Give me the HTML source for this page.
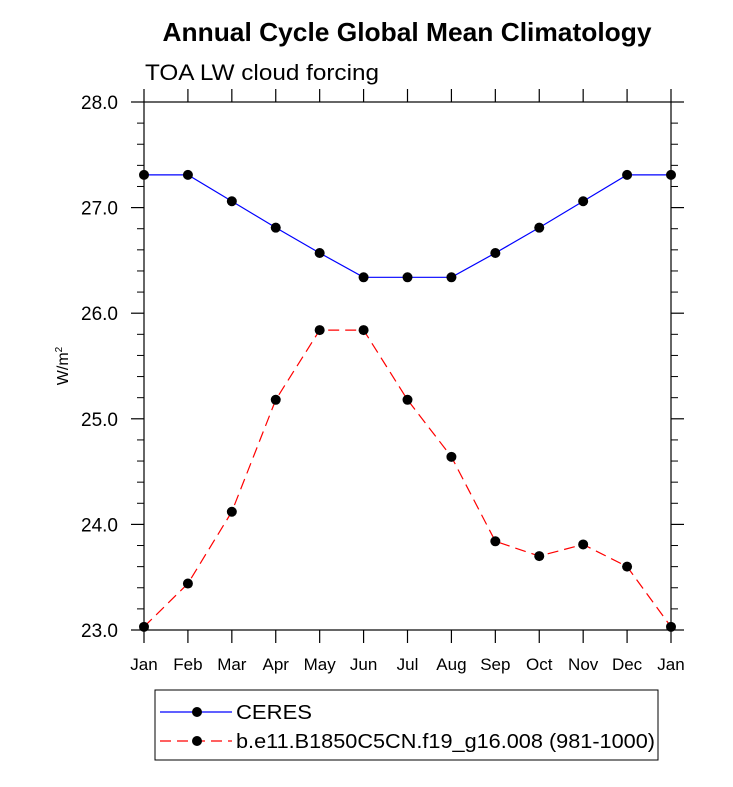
<!DOCTYPE html>
<html><head><meta charset="utf-8"><style>
body{margin:0;background:#fff;}
svg text{font-family:"Liberation Sans",Arial,sans-serif;}
</style></head><body>
<svg id="chart" width="733" height="782" xmlns="http://www.w3.org/2000/svg">
<text x="407" y="41" text-anchor="middle" font-size="26" font-weight="bold" textLength="489" lengthAdjust="spacingAndGlyphs">Annual Cycle Global Mean Climatology</text>
<text x="145" y="80" font-size="22" textLength="234" lengthAdjust="spacingAndGlyphs">TOA LW cloud forcing</text>
<text transform="translate(68,366) rotate(-90)" text-anchor="middle" font-size="16">W/m<tspan font-size="10" dy="-6">2</tspan></text>
<g id="axes"></g>
<g id="series"></g>
<g>
<rect x="155" y="690" width="503" height="70" fill="none" stroke="#000" stroke-width="1"/>
<line x1="160" y1="712" x2="232" y2="712" stroke="#0000ff" stroke-width="1.2"/>
<circle cx="197" cy="712" r="5" fill="#000"/>
<text x="236" y="719" font-size="20" textLength="76" lengthAdjust="spacingAndGlyphs">CERES</text>
<line x1="160" y1="741" x2="232" y2="741" stroke="#ff0000" stroke-width="1.2" stroke-dasharray="11,6"/>
<circle cx="197" cy="741" r="5" fill="#000"/>
<text x="236" y="748" font-size="20" textLength="419" lengthAdjust="spacingAndGlyphs">b.e11.B1850C5CN.f19_g16.008 (981-1000)</text>
</g>
</svg>
<script>
const months = ["Jan","Feb","Mar","Apr","May","Jun","Jul","Aug","Sep","Oct","Nov","Dec","Jan"];
const ceres = [27.31,27.31,27.06,26.81,26.57,26.34,26.34,26.34,26.57,26.81,27.06,27.31,27.31];
const model = [23.03,23.44,24.12,25.18,25.84,25.84,25.18,24.64,23.84,23.70,23.81,23.60,23.03];
const yTicks = [23.0,24.0,25.0,26.0,27.0,28.0];
const yTickLabels = ["23.0","24.0","25.0","26.0","27.0","28.0"];
const L=144,R=671,T=102,B=630,ymin=23,ymax=28;
const xs=i=>L+(R-L)*i/(months.length-1);
const ys=v=>B-(v-ymin)/(ymax-ymin)*(B-T);
const NS="http://www.w3.org/2000/svg";
function mk(tag,attrs,parent){const e=document.createElementNS(NS,tag);for(const k in attrs)e.setAttribute(k,attrs[k]);parent.appendChild(e);return e;}
const ax=document.getElementById('axes');
const fr=mk('rect',{x:L,y:T,width:R-L,height:B-T,fill:'none',stroke:'#000','stroke-width':1.2},ax);


yTicks.forEach((v,i)=>{
  const y=ys(v);
  mk('line',{x1:L-13,y1:y,x2:L,y2:y,stroke:'#000','stroke-width':1.2},ax);
  mk('line',{x1:R,y1:y,x2:R+13,y2:y,stroke:'#000','stroke-width':1.2},ax);
  const t=mk('text',{x:L-26,y:y+7,'text-anchor':'end','font-size':19},ax);
  t.textContent=yTickLabels[i];
  
  
  if(i<yTicks.length-1){for(let k=1;k<5;k++){const yy=ys(v+k*0.2);
    mk('line',{x1:L-7,y1:yy,x2:L,y2:yy,stroke:'#000','stroke-width':1},ax);
    mk('line',{x1:R,y1:yy,x2:R+7,y2:yy,stroke:'#000','stroke-width':1},ax);}}
});
months.forEach((m,i)=>{
  const x=xs(i);
  mk('line',{x1:x,y1:B,x2:x,y2:B+13,stroke:'#000','stroke-width':1.2},ax);
  mk('line',{x1:x,y1:T-13,x2:x,y2:T,stroke:'#000','stroke-width':1.2},ax);
  const t=mk('text',{x:x,y:B+40,'text-anchor':'middle','font-size':17},ax);
  t.textContent=m;
  
  
});
const sg=document.getElementById('series');
function series(vals,color,dash,name){
  const pts=vals.map((v,i)=>xs(i)+','+ys(v)).join(' ');
  const pl=mk('polyline',{points:pts,fill:'none',stroke:color,'stroke-width':1.2,'stroke-dasharray':dash},sg);
  
  
  vals.forEach((v,i)=>{const c=mk('circle',{cx:xs(i),cy:ys(v),r:5,fill:'#000'},sg);
    
    });
}
series(ceres,'#0000ff','none','ceres');
series(model,'#ff0000','11,6','model');
</script>
</body></html>
